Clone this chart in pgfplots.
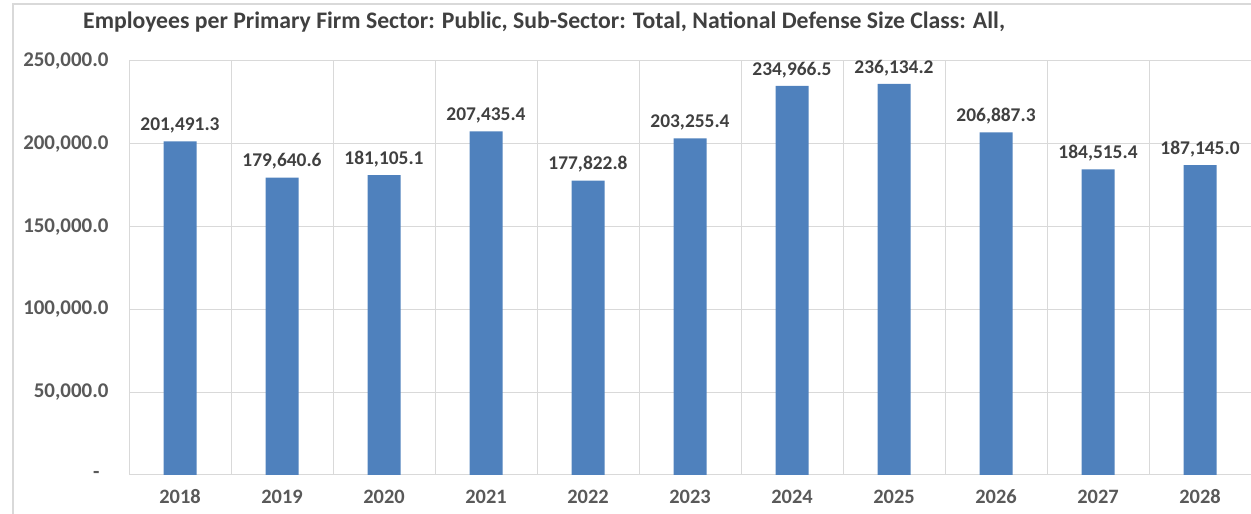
\documentclass[border=0pt]{standalone}
\usepackage{fontspec}
\setmainfont{Carlito}
\usepackage{pgfplots}
\pgfplotsset{compat=1.18}
\definecolor{barblue}{HTML}{4F81BD}
\definecolor{gridgray}{HTML}{D9D9D9}
\definecolor{ticktext}{HTML}{595959}
\definecolor{labeltext}{HTML}{404040}
\begin{document}
\begin{tikzpicture}[x=1bp,y=1bp]
\useasboundingbox (0,0) rectangle (1251,514);
\draw[gridgray, line width=1.2bp] (13,-5) -- (13,510) -- (1260,510);
\node[anchor=west, inner sep=0pt, font=\bfseries\fontsize{23.8}{27}\selectfont, text=labeltext] at (83,492) {Employees per Primary Firm Sector: Public, Sub-Sector: Total, National Defense Size Class: All,};
\begin{axis}[
  at={(129bp,39bp)}, anchor=south west,
  scale only axis, width=1122bp, height=414bp,
  ybar, bar width=33bp,
  ymin=0, ymax=250000,
  xmin=-0.5, xmax=10.5,
  scaled y ticks=false,
  ytick={0,50000,100000,150000,200000,250000},
  yticklabels={{-\hspace*{9bp}},{50,000.0},{100,000.0},{150,000.0},{200,000.0},{250,000.0}},
  xtick={0,1,2,3,4,5,6,7,8,9,10},
  xticklabels={2018,2019,2020,2021,2022,2023,2024,2025,2026,2027,2028},
  minor xtick={-0.5,0.5,1.5,2.5,3.5,4.5,5.5,6.5,7.5,8.5,9.5,10.5},
  xminorgrids, ymajorgrids,
  grid style={gridgray, line width=1bp},
  minor grid style={gridgray, line width=1bp},
  axis line style={gridgray, line width=1bp},
  major tick length=0pt, minor tick length=0pt,
  tick style={draw=none},
  yticklabel style={font=\bfseries\fontsize{21}{24}\selectfont, text=ticktext, anchor=east, xshift=-17bp},
  xticklabel style={font=\bfseries\fontsize{20.5}{24}\selectfont, text=ticktext, anchor=center, yshift=-22bp},
  nodes near coords={\pgfmathprintnumber[fixed, fixed zerofill, precision=1, 1000 sep={,}]{\pgfplotspointmeta}},
  nodes near coords style={font=\bfseries\fontsize{19.5}{22}\selectfont, text=labeltext, anchor=center, yshift=16bp, /pgf/number format/assume math mode=true},
  /pgf/number format/assume math mode=true,
]
\addplot[fill=barblue, draw=none] coordinates {
  (0,201491.3) (1,179640.6) (2,181105.1) (3,207435.4) (4,177822.8) (5,203255.4)
  (6,234966.5) (7,236134.2) (8,206887.3) (9,184515.4) (10,187145.0)
};
\end{axis}
\end{tikzpicture}
\end{document}
